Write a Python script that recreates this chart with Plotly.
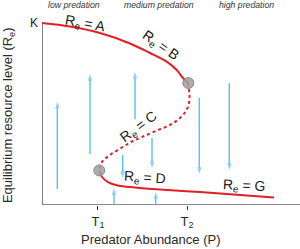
import plotly.graph_objects as go

# ---- data (predator abundance P on x, equilibrium resource level Re on y; K = 100) ----
K = 100
T1, T2 = 21.7, 56.2

upper_p = [0, 10.85, 22.48, 34.11, 41.86, 48.33, 52.21, 54.65, 56.59]
upper_r = [100, 98.05, 94.47, 88.71, 83.49, 78.71, 74.14, 69.75, 67.01]

middle_p = [56.59, 57.17, 56.98, 56.01, 53.49, 49.61, 44.57, 39.15, 35.27, 31.01, 26.36, 23.26, 22.21]
middle_r = [67.01, 60.42, 56.03, 52.18, 47.79, 43.94, 40.92, 37.63, 35.15, 31.58, 27.46, 23.62, 19.22]

lower_p = [22.21, 23.26, 25.58, 29.46, 36.05, 45.74, 61.24, 76.74, 89.92]
lower_r = [18.95, 15.38, 12.63, 10.71, 9.61, 8.51, 7.14, 5.49, 4.12]

bif_p = [56.7, 22.2]
bif_r = [67.0, 19.0]

# arrows: (x, tail y, head y)
arrow_x = [5.93, 18.6, 36.05, 31.28, 42.64, 60.97, 72.6, 27.9, 44.07]
arrow_from = [8.73, 28.0, 47.24, 27.46, 36.8, 58.77, 67.01, 0.0, 0.0]
arrow_to = [56.7, 71.95, 73.05, 14.83, 20.32, 17.03, 19.22, 9.34, 7.14]

branch_labels = ["R<sub>e</sub> = A", "R<sub>e</sub> = B", "R<sub>e</sub> = C", "R<sub>e</sub> = D", "R<sub>e</sub> = G"]
branch_label_p = [16.9, 46.1, 37.6, 39.9, 78.3]
branch_label_r = [99.6, 87.4, 42.8, 14.6, 10.2]
branch_label_angle = [10, 35, -37, 4, 3]

zone_labels = ["low predation", "medium predation", "high predation"]
zone_p = [12.4, 45.5, 79.3]

tick_vals = [T1, T2]
tick_text = ["T<sub>1</sub>", "T<sub>2</sub>"]

RED = "#e31e26"
BLUE = "#55c3ef"
FONT = "Liberation Sans, Arial, sans-serif"

fig = go.Figure()

for x, y0, y1 in zip(arrow_x, arrow_from, arrow_to):
    fig.add_trace(go.Scatter(
        x=[x, x], y=[y0, y1], mode="lines+markers",
        line=dict(color=BLUE, width=1.4),
        marker=dict(symbol="arrow", angleref="previous", size=[0, 7], color=BLUE,
                    line=dict(width=0)),
        hoverinfo="skip"))

fig.add_trace(go.Scatter(x=upper_p, y=upper_r, mode="lines", line=dict(color=RED, width=2, shape="spline"), hoverinfo="skip"))
fig.add_trace(go.Scatter(x=middle_p, y=middle_r, mode="lines", line=dict(color=RED, width=2, dash="dot", shape="spline"), hoverinfo="skip"))
fig.add_trace(go.Scatter(x=lower_p, y=lower_r, mode="lines", line=dict(color=RED, width=2, shape="spline"), hoverinfo="skip"))
fig.add_trace(go.Scatter(x=bif_p, y=bif_r, mode="markers",
                         marker=dict(size=11, color="rgba(160,160,160,0.85)", line=dict(color="#8a8a8a", width=1)),
                         hoverinfo="skip"))

ann = []
for t, x, y, a in zip(branch_labels, branch_label_p, branch_label_r, branch_label_angle):
    ann.append(dict(x=x, y=y, xref="x", yref="y", text=t, showarrow=False, textangle=a,
                    xanchor="center", yanchor="middle",
                    font=dict(family=FONT, size=14, color="#1a1a1a")))
for t, x in zip(zone_labels, zone_p):
    ann.append(dict(x=x, y=109.9, xref="x", yref="y", text="<i>" + t + "</i>", showarrow=False,
                    xanchor="center", yanchor="middle",
                    font=dict(family=FONT, size=8.7, color="#333333")))
ann.append(dict(x=0, y=K, xref="x", yref="y", text="K", showarrow=False, xanchor="right", yanchor="middle",
                xshift=-2, font=dict(family=FONT, size=12, color="#1a1a1a")))
ann.append(dict(x=(150 - 42) / 258, y=(205 - 240) / 205, xref="paper", yref="paper",
                xanchor="center", yanchor="middle",
                text="Predator Abundance (P)", showarrow=False,
                font=dict(family=FONT, size=13, color="#2a2a2a")))
ann.append(dict(x=(8 - 42) / 258, y=49.4, xref="paper", yref="y", textangle=-90,
                xanchor="center", yanchor="middle",
                text="Equilibrium resource level (R<sub>e</sub>)", showarrow=False,
                font=dict(family=FONT, size=13, color="#2a2a2a")))

shapes = [
    dict(type="line", xref="x", yref="y", x0=0, x1=0, y0=0, y1=K, line=dict(color="#555555", width=1.5)),
    dict(type="line", xref="x", yref="y", x0=0, x1=100, y0=0, y1=0, line=dict(color="#8a8a8a", width=2)),
]

fig.update_layout(
    width=300, height=249,
    margin=dict(l=42, r=0, t=0, b=44),
    paper_bgcolor="white", plot_bgcolor="white",
    showlegend=False,
    annotations=ann, shapes=shapes,
    xaxis=dict(range=[0, 100], showgrid=False, zeroline=False, showline=False,
               tickvals=tick_vals, ticktext=tick_text, ticks="outside", ticklen=4,
               tickcolor="#333333", tickwidth=1,
               tickfont=dict(family=FONT, size=13, color="#2a2a2a")),
    yaxis=dict(range=[0, 112.6], showgrid=False, zeroline=False, showline=False,
               showticklabels=False, ticks=""),
)

fig.write_html("out.html")
